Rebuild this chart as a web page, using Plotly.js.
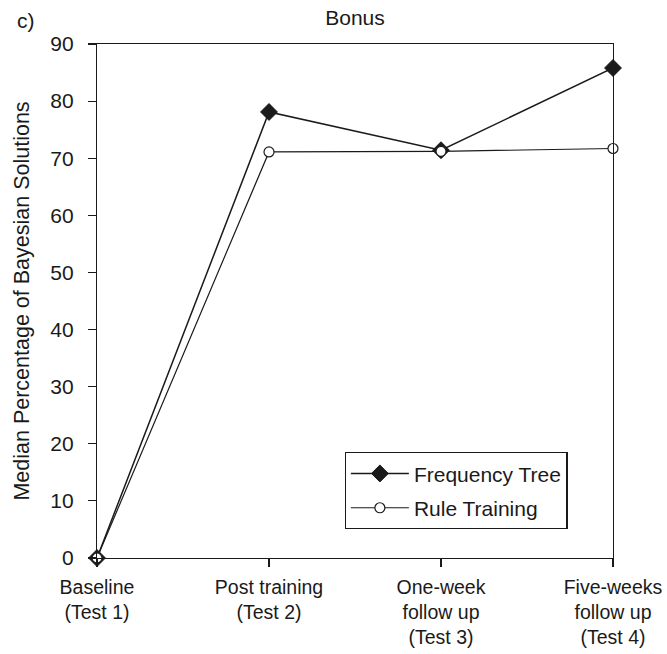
<!DOCTYPE html>
<html>
<head>
<meta charset="utf-8">
<script src="https://cdn.plot.ly/plotly-3.0.1.min.js"></script>
<style>html,body{margin:0;padding:0;background:#fff;}#chart{width:667px;height:654px;}</style>
</head>
<body>
<div id="chart"></div>
<script>
// Data
var categories = [0, 1, 2, 3];
var tickLabels = ["Baseline<br>(Test 1)", "Post training<br>(Test 2)", "One-week<br>follow up<br>(Test 3)", "Five-weeks<br>follow up<br>(Test 4)"];
var frequencyTree = [0, 78.1, 71.4, 85.8];
var ruleTraining = [0, 71.1, 71.2, 71.7];
var yTicks = [0, 10, 20, 30, 40, 50, 60, 70, 80, 90];

var ink = '#1a1a1a';
var fam = 'Liberation Sans, Arial, sans-serif';
var font = {family: fam, size: 21, color: ink};
var xTickFont = {family: fam, size: 19.5, color: ink};
var titleFont = {family: fam, size: 21.5, color: ink};

var traces = [
  {
    x: categories, y: frequencyTree, name: 'Frequency Tree', type: 'scatter', mode: 'lines+markers',
    legendgroup: 'ft',
    line: {color: ink, width: 1.5},
    marker: {symbol: 'diamond', size: 13, color: ink, line: {color: ink, width: 1}},
    cliponaxis: false
  },
  {
    x: categories, y: ruleTraining, name: 'Rule Training', type: 'scatter', mode: 'lines+markers',
    legendgroup: 'rt',
    line: {color: ink, width: 1.2},
    marker: {symbol: 'circle', size: 10, color: '#ffffff', line: {color: ink, width: 1.2}},
    cliponaxis: false
  }
];

var layout = {
  width: 667, height: 654,
  margin: {l: 97, r: 54, t: 44, b: 96},
  paper_bgcolor: '#fff', plot_bgcolor: '#fff',
  font: font,
  title: {text: 'Bonus', x: 0.5, xref: 'paper', xanchor: 'center', y: 1 - 18/654, yref: 'container', yanchor: 'middle', font: font},
  showlegend: true,
  legend: {
    x: 0.48, y: 0.206, xanchor: 'left', yanchor: 'top',
    bordercolor: ink, borderwidth: 1.2, bgcolor: '#fff',
    font: font, itemwidth: 58, tracegroupgap: 4
  },
  xaxis: {
    range: [0, 3], tickmode: 'array', tickvals: categories, ticktext: tickLabels,
    showgrid: false, zeroline: false, showline: true, linecolor: ink, linewidth: 1.2,
    mirror: true, ticks: 'outside', ticklen: 8, tickcolor: ink, tickwidth: 1.2,
    tickfont: xTickFont, ticklabelstandoff: 3, fixedrange: true
  },
  yaxis: {
    range: [0, 90], tickmode: 'array', tickvals: yTicks,
    showgrid: false, zeroline: false, showline: true, linecolor: ink, linewidth: 1.2,
    mirror: true, ticks: 'outside', ticklen: 8, tickcolor: ink, tickwidth: 1.2,
    tickfont: font, ticklabelstandoff: 10,
    title: {text: 'Median Percentage of Bayesian Solutions', font: titleFont, standoff: 14},
    fixedrange: true
  },
  annotations: [
    {text: 'c)', xref: 'paper', yref: 'paper', x: -0.159, y: (558 - 21) / 514, xanchor: 'left', yanchor: 'middle', showarrow: false, font: font}
  ]
};

Plotly.newPlot('chart', traces, layout, {staticPlot: true, displayModeBar: false});
</script>
</body>
</html>
